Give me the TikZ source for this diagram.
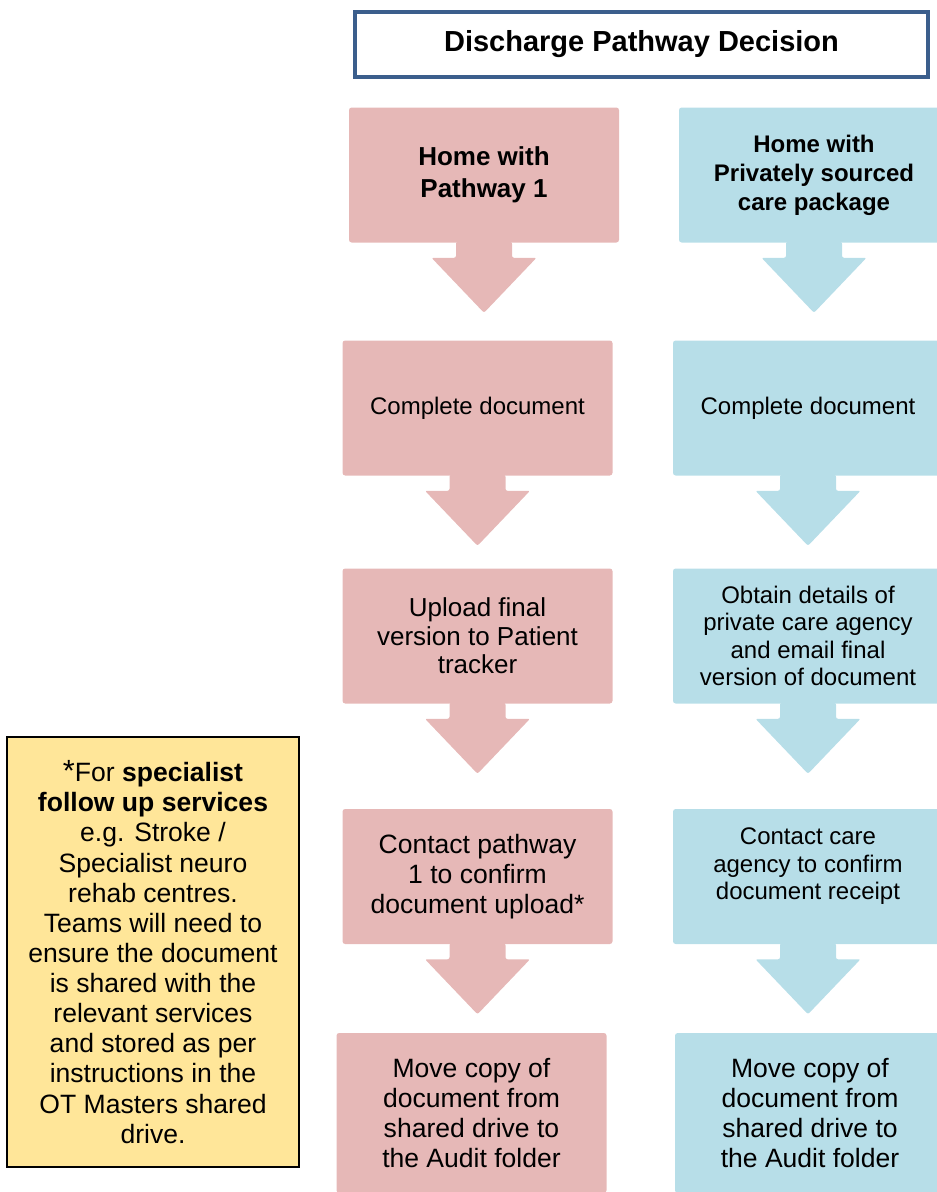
\documentclass[tikz,border=0pt]{standalone}
\usepackage{fontspec}
\setmainfont{Liberation Sans}

\definecolor{pathpink}{HTML}{E6B8B7}
\definecolor{privblue}{HTML}{B7DEE8}
\definecolor{notegold}{HTML}{FFE699}
\definecolor{titleblue}{HTML}{3B5E8C}

\tikzset{
  stepbox/.style={rectangle, rounded corners=2pt, minimum width=202.5pt,
    minimum height=101.25pt, inner sep=0pt, align=center},
  pinkbox/.style={stepbox, fill=pathpink},
  bluebox/.style={stepbox, fill=privblue},
  bigtxt/.style={font=\fontsize{19.9}{22.5}\selectfont},
  midtxt/.style={font=\fontsize{18}{20.6}\selectfont}
}

% block arrow hanging under a box
\newcommand{\flowarrow}[2]{%
  \fill[#2, rounded corners=1.5pt] (#1.south) ++(-28,-1) -- ++(0,16)
    -- ++(-24.5,0) -- ++(52.5,55) -- ++(52.5,-55) -- ++(-24.5,0) -- ++(0,-16) -- cycle;}

\begin{document}
\begin{tikzpicture}[x=0.75pt,y=-0.75pt]
    \useasboundingbox (0,0) rectangle (936,1192);

    \node[draw=titleblue, line width=3pt, minimum width=429.75pt, minimum height=48.75pt,
      font=\bfseries\fontsize{21.75}{26}\selectfont] (title) at (641.5,44.5) {Discharge Pathway Decision};

    % pathway 1
    \node[pinkbox, font=\bfseries\fontsize{19.5}{24}\selectfont] (l1) at (484,175) {Home with\\Pathway 1};
    \node[pinkbox, midtxt] (l2) at (477.5,408) {Complete document};
    \node[pinkbox, font=\fontsize{19.5}{21.4}\selectfont] (l3) at (477.5,636) {Upload final\\version to Patient\\tracker};
    \node[pinkbox, bigtxt] (l4) at (477.5,876.5) {Contact pathway\\1 to confirm\\document upload*};
    \node[pinkbox, bigtxt, minimum height=120pt] (l5) at (471.5,1113) {Move copy of\\document from\\shared drive to\\the Audit folder};

    % private care
    \node[bluebox, font=\bfseries\fontsize{18}{21.75}\selectfont] (r1) at (814,175) {Home with\\Privately sourced\\care package};
    \node[bluebox, midtxt] (r2) at (808,408) {Complete document};
    \node[bluebox, midtxt] (r3) at (808,636) {Obtain details of\\private care agency\\and email final\\version of document};
    \node[bluebox, midtxt, text depth=19pt] (r4) at (808,876.5) {Contact care\\agency to confirm\\document receipt};
    \node[bluebox, bigtxt, minimum height=120pt] (r5) at (810,1113) {Move copy of\\document from\\shared drive to\\the Audit folder};

    \foreach \n in {l1,l2,l3,l4} {\flowarrow{\n}{pathpink}}
    \foreach \n in {r1,r2,r3,r4} {\flowarrow{\n}{privblue}}

    % footnote box
    \node[draw=black, line width=1.5pt, fill=notegold, minimum width=219pt, minimum height=322.5pt,
      inner sep=0pt, align=center, font=\fontsize{19.9}{22.6}\selectfont] (note) at (153,952)
      {{\fontsize{23}{22.6}\selectfont*}For \textbf{specialist}\\\textbf{follow up services}\\e.g. Stroke /\\Specialist neuro\\rehab centres.\\Teams will need to\\ensure the document\\is shared with the\\relevant services\\and stored as per\\instructions in the\\OT Masters shared\\drive.};
\end{tikzpicture}
\end{document}
